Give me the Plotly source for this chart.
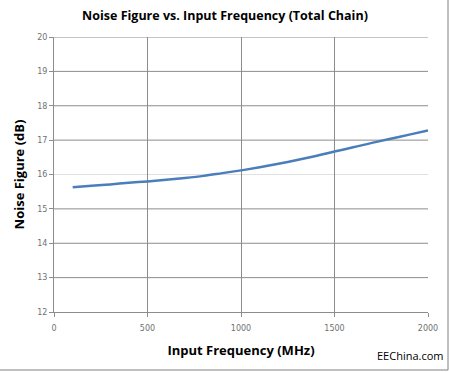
import plotly.graph_objects as go

freq_mhz = [100, 200, 300, 400, 500, 600, 700, 800, 900, 1000,
            1100, 1200, 1300, 1400, 1500, 1600, 1700, 1800, 1900, 2000]
noise_figure_db = [15.63, 15.67, 15.71, 15.76, 15.80, 15.85, 15.90, 15.96, 16.04, 16.12,
                   16.21, 16.31, 16.42, 16.54, 16.67, 16.79, 16.92, 17.04, 17.16, 17.28]
x_ticks = [0, 500, 1000, 1500, 2000]
y_ticks = [12, 13, 14, 15, 16, 17, 18, 19, 20]
light_grid_value = 16

grid = "#8C8C8C"
fig = go.Figure()
for v in y_ticks[1:]:
    fig.add_hline(y=v, line=dict(color="#E0E0E0" if v == light_grid_value else grid, width=1),
                  layer="below")
fig.add_trace(go.Scatter(x=freq_mhz, y=noise_figure_db, mode="lines",
                         line=dict(color="#4A7EBB", width=2.5, shape="spline"),
                         showlegend=False))

fig.update_layout(
    width=450, height=372,
    margin=dict(l=54, r=22, t=37, b=60),
    paper_bgcolor="white", plot_bgcolor="white",
    title=dict(text="<b>Noise Figure vs. Input Frequency (Total Chain)</b>",
               x=0.5, xanchor="center", y=1 - 16/372, yanchor="middle",
               font=dict(family="Open Sans", size=12.5, color="black")),
    xaxis=dict(range=[0, 2000], tickvals=x_ticks, showgrid=True, gridcolor=grid, gridwidth=1,
               showline=True, linecolor=grid, linewidth=1, ticks="outside", ticklen=4,
               tickcolor=grid, zeroline=False, ticklabelstandoff=4,
               tickfont=dict(family="DejaVu Sans", size=8, color="#707070"),
               title=dict(text="<b>Input Frequency (MHz)</b>", standoff=14,
                          font=dict(family="Open Sans", size=13, color="black"))),
    yaxis=dict(range=[12, 20], tickvals=y_ticks, showgrid=False,
               showline=True, linecolor=grid, linewidth=1, ticks="outside", ticklen=4,
               tickcolor=grid, zeroline=False,
               tickfont=dict(family="DejaVu Sans", size=8, color="#707070"),
               title=dict(text="<b>Noise Figure (dB)</b>", standoff=9,
                          font=dict(family="Open Sans", size=13, color="black"))),
)
fig.add_annotation(text="EEChina.com", xref="paper", yref="paper",
                   x=(446 - 54) / 374, y=-(355 - 312) / 275, xanchor="right", yanchor="middle",
                   showarrow=False, font=dict(family="Open Sans", size=11, color="black"))
fig.add_shape(type="line", xref="paper", yref="paper",
              x0=(448 - 54) / 374, x1=(448 - 54) / 374, y0=-(370 - 312) / 275, y1=(312 - 0) / 275,
              line=dict(color="#808080", width=1))
fig.add_shape(type="line", xref="paper", yref="paper",
              x0=-54 / 374, x1=(448 - 54) / 374, y0=-(370 - 312) / 275, y1=-(370 - 312) / 275,
              line=dict(color="#808080", width=1))
fig.write_html("out.html", config={"displayModeBar": False},
               post_script="document.body.style.margin='0';document.body.style.overflow='hidden';")
